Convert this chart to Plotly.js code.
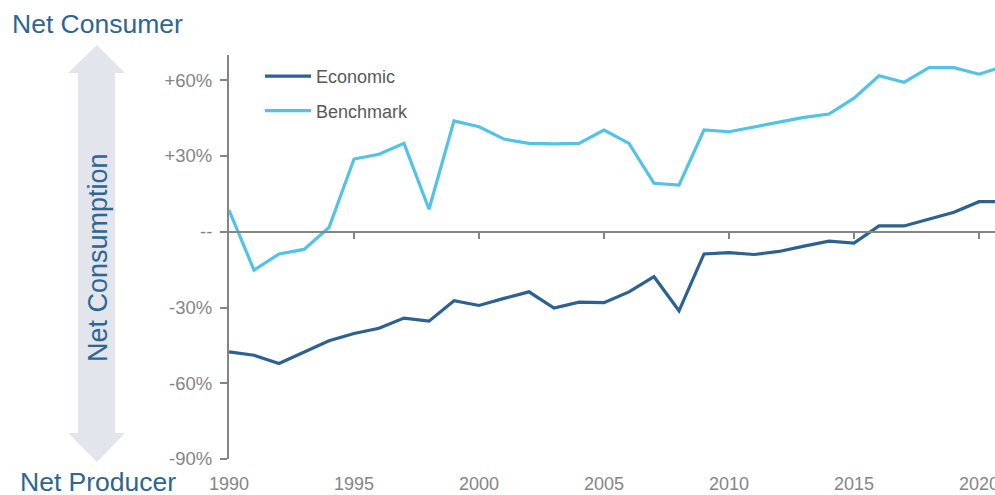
<!DOCTYPE html>
<html>
<head>
<meta charset="utf-8">
<script src="https://cdn.plot.ly/plotly-3.0.1.min.js"></script>
<style>
  html, body { margin: 0; padding: 0; background: #ffffff; }
  #chart { width: 995px; height: 495px; }
</style>
</head>
<body>
<div id="chart"></div>
<script>
const years = [1990,1991,1992,1993,1994,1995,1996,1997,1998,1999,2000,2001,2002,2003,2004,2005,2006,2007,2008,2009,2010,2011,2012,2013,2014,2015,2016,2017,2018,2019,2020,2021];
const economic = [-47.6,-48.9,-52.2,-47.6,-43.2,-40.3,-38.2,-34.2,-35.4,-27.3,-29.2,-26.4,-23.8,-30.2,-27.9,-28.1,-23.8,-17.8,-31.3,-8.8,-8.3,-9.0,-7.8,-5.7,-3.7,-4.5,2.3,2.3,4.9,7.7,11.9,11.9];
const benchmark = [8.6,-15.2,-8.8,-7.0,1.7,28.8,30.7,35.0,8.9,43.9,41.6,36.7,35.0,34.8,35.0,40.3,35.0,19.2,18.5,40.3,39.6,41.6,43.5,45.3,46.6,52.9,61.8,59.2,65.0,65.0,62.4,65.5];
const yTickVals = [-90,-60,-30,0,30,60];
const yTickText = ['-90%','-60%','-30%','--','+30%','+60%'];
const xTickVals = [1990,1995,2000,2005,2010,2015,2020];
const seriesNames = ['Economic','Benchmark'];

const xRange = [1990, 2020.64];
const yRange = [-90, 70];
const gray = '#858585';
const blueText = '#2e6592';
const font = 'Liberation Sans, Arial, sans-serif';

const traces = [
  {x: years, y: economic, name: seriesNames[0], type: 'scatter', mode: 'lines',
   xaxis: 'x', yaxis: 'y',
   line: {color: '#2c6190', width: 3.2}, legendgroup: 'a'},
  {x: years, y: benchmark, name: seriesNames[1], type: 'scatter', mode: 'lines',
   xaxis: 'x2', yaxis: 'y',
   line: {color: '#52c3e7', width: 3.2}, legendgroup: 'b'}
];

// plot area in pixels: x 229..995, y 55..459
const L = 229, R = 995, T = 55, B = 459;
const px = v => (v - L) / (R - L);
const py = v => (B - v) / (B - T);

// double arrow path (paper coords)
const arrowPts = [
  [97,45],[125,73],[115,73],[115,433],[125,433],[97,462],[68,433],[78,433],[78,73],[68,73]
];
const arrowPath = 'M' + arrowPts.map(p => px(p[0]).toFixed(5) + ',' + py(p[1]).toFixed(5)).join(' L') + ' Z';

const layout = {
  width: 995, height: 495,
  margin: {l: L, r: 0, t: T, b: 495 - B, pad: 0},
  paper_bgcolor: '#ffffff', plot_bgcolor: '#ffffff',
  font: {family: font, color: gray, size: 18},
  showlegend: true,
  legend: {x: px(260), y: py(58), xanchor: 'left', yanchor: 'top',
           font: {size: 18, color: '#595959', family: font},
           bgcolor: 'rgba(0,0,0,0)', itemwidth: 46, tracegroupgap: 8},
  xaxis: {range: xRange, showline: false, showgrid: false, zeroline: false,
          ticks: '', tickvals: xTickVals, ticklabelstandoff: 12,
          ticklabeloverflow: 'allow',
          tickfont: {size: 18, color: gray}, fixedrange: true},
  xaxis2: {range: xRange, overlaying: 'x', anchor: 'free', position: 90/160, side: 'bottom',
           showline: true, linecolor: gray, linewidth: 2, showgrid: false, zeroline: false,
           ticks: 'outside', ticklen: 6, tickwidth: 2, tickcolor: gray,
           tickvals: xTickVals.slice(1), showticklabels: false, fixedrange: true},
  yaxis: {range: yRange, showline: true, linecolor: gray, linewidth: 2, showgrid: false,
          zeroline: false, ticks: 'outside', ticklen: 7, tickwidth: 2, tickcolor: gray,
          tickvals: yTickVals, ticktext: yTickText, tickfont: {size: 18.5, color: gray},
          ticklabelstandoff: 4, fixedrange: true},
  shapes: [
    {type: 'path', xref: 'paper', yref: 'paper', path: arrowPath,
     fillcolor: '#e2e5eb', line: {width: 0}, layer: 'below'}
  ],
  annotations: [
    {text: 'Net Consumer', xref: 'paper', yref: 'paper', x: px(10), y: py(24),
     xanchor: 'left', yanchor: 'middle', showarrow: false,
     font: {size: 26.5, color: blueText, family: font}},
    {text: 'Net Producer', xref: 'paper', yref: 'paper', x: px(18), y: py(482),
     xanchor: 'left', yanchor: 'middle', showarrow: false,
     font: {size: 26.5, color: blueText, family: font}},
    {text: 'Net Consumption', xref: 'paper', yref: 'paper', x: px(98), y: py(258),
     xanchor: 'center', yanchor: 'middle', showarrow: false, textangle: -90,
     font: {size: 27, color: blueText, family: font}}
  ]
};

Plotly.newPlot('chart', traces, layout, {displayModeBar: false, staticPlot: true});
</script>
</body>
</html>
